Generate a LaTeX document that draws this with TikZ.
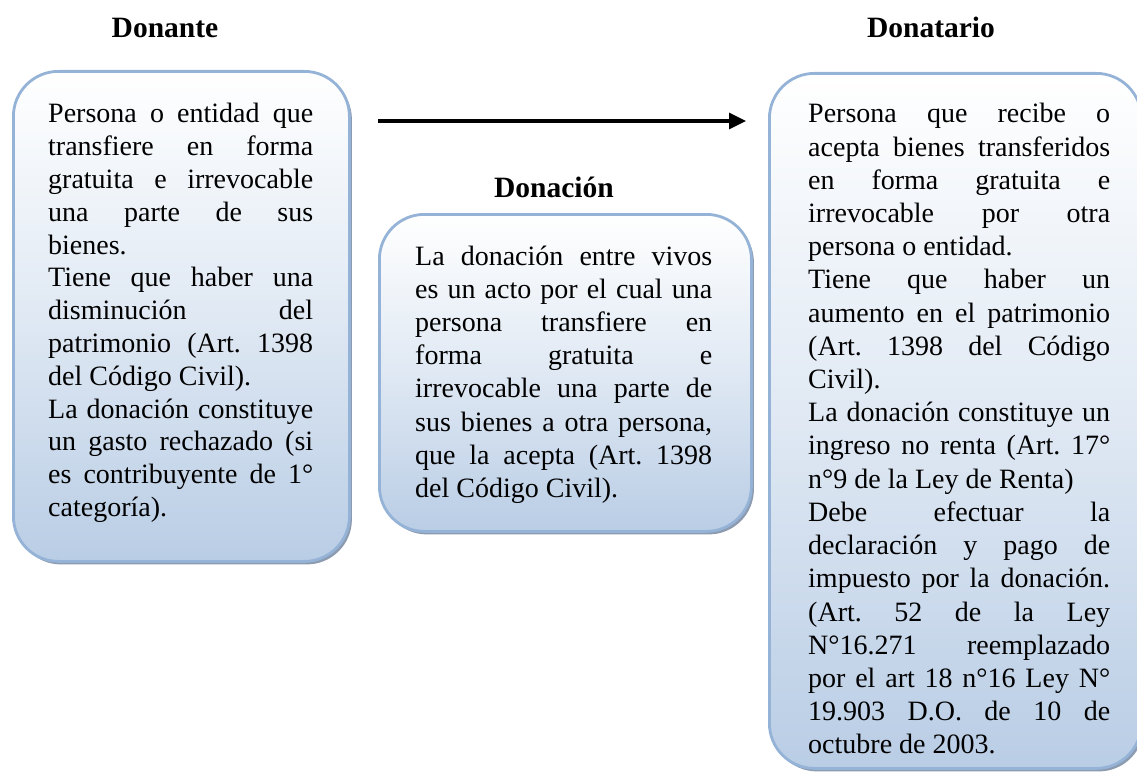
\documentclass[tikz,border=0pt]{standalone}
\usepackage{fontspec}
\setmainfont{Liberation Serif}
\usetikzlibrary{arrows.meta,shadows}
\definecolor{bord}{RGB}{149,179,215}
\definecolor{boxbot}{RGB}{185,205,229}
\definecolor{shad}{RGB}{128,144,166}
\newcommand\jline[1]{\makebox[\linewidth][s]{#1}\par}
\newcommand\lline[1]{\mbox{#1}\par}
\tikzset{
  panel/.style={draw=bord, line width=2.8pt, rounded corners=45pt, top color=white, bottom color=boxbot,
    middle color=white!55!boxbot, inner sep=0pt, anchor=north west,
    drop shadow={shadow xshift=2.5pt, shadow yshift=-3pt, fill=shad, opacity=0.9}},
  title/.style={font=\fontsize{29.5}{33}\selectfont\bfseries, inner sep=0pt, anchor=base},
  body/.style={font=\fontsize{28}{33}\selectfont\frenchspacing, inner sep=0pt, anchor=base west},
}
\begin{document}
\begin{tikzpicture}[x=1pt,y=-1pt]
\useasboundingbox (0,0) rectangle (1137,778);
% boxes
\node[panel, minimum width=336pt, minimum height=490pt] (left) at (12,70) {};
\node[panel, minimum width=372pt, minimum height=317pt] (mid) at (378,213) {};
\node[panel, minimum width=372pt, minimum height=695pt] (right) at (768,72) {};
% white patch under the middle title
\fill[white] (473,200) rectangle (652,212.4);
% titles
\node[title] (tleft) at (165,38) {Donante};
\node[title] (tright) at (931,38) {Donatario};
\node[title] (tmid) at (554,197) {Donación};
% arrow
\coordinate (a1) at (378,121);
\coordinate (a2) at (746,121);
\draw[line width=3.2pt, -{Triangle[length=17pt,width=16pt]}] (a1) -- (a2);
% texts
\node[body] (bl) at (48,123) {\parbox[t]{265pt}{\parindent0pt\parskip0pt\baselineskip32.8pt
\jline{Persona o entidad que}
\jline{transfiere en forma}
\jline{gratuita e irrevocable}
\jline{una parte de sus}
\lline{bienes.}
\jline{Tiene que haber una}
\jline{disminución del}
\jline{patrimonio (Art. 1398}
\lline{del Código Civil).}
\jline{La donación constituye}
\jline{un gasto rechazado (si}
\jline{es contribuyente de 1°}
\lline{categoría).}}};
\node[body] (bm) at (415,265) {\parbox[t]{297pt}{\parindent0pt\parskip0pt\baselineskip33.2pt
\jline{La donación entre vivos}
\jline{es un acto por el cual una}
\jline{persona transfiere en}
\jline{forma gratuita e}
\jline{irrevocable una parte de}
\jline{sus bienes a otra persona,}
\jline{que la acepta (Art. 1398}
\lline{del Código Civil).}}};
\node[body] (br) at (808,123) {\parbox[t]{302pt}{\parindent0pt\parskip0pt\baselineskip33.2pt
\jline{Persona que recibe o}
\jline{acepta bienes transferidos}
\jline{en forma gratuita e}
\jline{irrevocable por otra}
\lline{persona o entidad.}
\jline{Tiene que haber un}
\jline{aumento en el patrimonio}
\jline{(Art. 1398 del Código}
\lline{Civil).}
\jline{La donación constituye un}
\jline{ingreso no renta (Art. 17°}
\lline{n°9 de la Ley de Renta)}
\jline{Debe efectuar la}
\jline{declaración y pago de}
\jline{impuesto por la donación.}
\jline{(Art. 52 de la Ley}
\jline{N°16.271 reemplazado}
\jline{por el art 18 n°16 Ley N°}
\jline{19.903 D.O. de 10 de}
\lline{octubre de 2003.}}};
\end{tikzpicture}
\end{document}
